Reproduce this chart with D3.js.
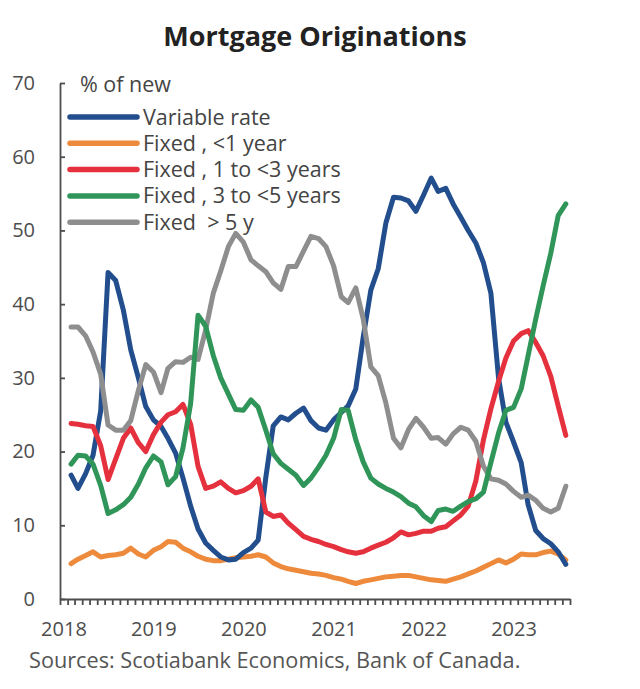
<!DOCTYPE html>
<html>
<head>
<meta charset="utf-8">
<script src="https://cdn.jsdelivr.net/npm/d3@7"></script>
<style>
	body { margin: 0; background: #fff; }
	svg { display: block; font-family: "Open Sans", sans-serif; }
	.axis path, .axis line { stroke: #4d4d4d; stroke-width: 1.8; }
	.axis text { fill: #4d4d4d; font-size: 20px; font-family: "Open Sans", sans-serif; }
</style>
</head>
<body>
<svg width="640" height="689"></svg>
<script>
// monthly shares of new mortgages, Feb 2018 to Aug 2023 (% of new)
var months = d3.timeMonth.range(new Date(2018, 1, 1), new Date(2023, 8, 1));

var variableRate = [16.8, 15.0, 17.0, 19.5, 25.5, 44.3, 43.2, 39.2, 33.8, 30.0,
	26.1, 24.3, 23.4, 21.8, 19.8, 16.4, 12.6, 9.5, 7.6, 6.6,
	5.7, 5.3, 5.4, 6.3, 6.9, 8.0, 16.5, 23.5, 24.7, 24.3,
	25.2, 25.9, 24.2, 23.2, 22.9, 24.3, 25.3, 26.2, 28.5, 35.5,
	41.9, 44.8, 51.0, 54.5, 54.4, 54.0, 52.6, 54.8, 57.1, 55.3,
	55.7, 53.6, 51.8, 50.0, 48.3, 45.6, 41.5, 30.0, 24.0, 21.3,
	18.5, 12.8, 9.3, 8.2, 7.5, 6.4, 4.7];

var fixedUnder1 = [4.8, 5.4, 5.9, 6.4, 5.7, 5.9, 6.0, 6.2, 6.9, 6.1,
	5.7, 6.6, 7.1, 7.8, 7.7, 6.9, 6.4, 5.8, 5.4, 5.2,
	5.2, 5.4, 5.6, 5.7, 5.8, 6.0, 5.7, 4.9, 4.4, 4.1,
	3.9, 3.7, 3.5, 3.4, 3.2, 2.9, 2.7, 2.4, 2.1, 2.4,
	2.6, 2.8, 3.0, 3.1, 3.2, 3.2, 3.0, 2.8, 2.6, 2.5,
	2.4, 2.7, 3.0, 3.4, 3.8, 4.3, 4.8, 5.3, 4.9, 5.4,
	6.1, 6.0, 6.0, 6.3, 6.5, 6.1, 5.3];

var fixed1to3 = [23.8, 23.7, 23.5, 23.4, 20.8, 16.2, 19.0, 21.8, 23.2, 21.2,
	20.0, 22.3, 24.0, 25.0, 25.4, 26.4, 23.7, 18.0, 15.0, 15.3,
	15.9, 15.0, 14.4, 14.7, 15.3, 16.3, 11.8, 11.2, 11.4, 10.3,
	9.4, 8.5, 8.1, 7.8, 7.4, 7.1, 6.7, 6.4, 6.2, 6.4,
	6.9, 7.3, 7.7, 8.3, 9.1, 8.7, 8.9, 9.2, 9.2, 9.6,
	9.8, 10.6, 11.4, 12.6, 16.0, 21.6, 25.8, 29.5, 32.7, 35.0,
	36.0, 36.4, 34.8, 33.0, 30.2, 26.2, 22.2];

var fixed3to5 = [18.3, 19.5, 19.4, 18.3, 15.4, 11.6, 12.1, 12.8, 13.8, 15.6,
	17.8, 19.4, 18.6, 15.5, 16.6, 20.5, 26.5, 38.5, 37.0, 33.0,
	30.0, 27.8, 25.7, 25.6, 27.0, 26.0, 22.9, 19.7, 18.4, 17.6,
	16.8, 15.4, 16.4, 17.9, 19.5, 21.8, 25.7, 25.6, 21.6, 18.6,
	16.4, 15.6, 15.0, 14.5, 13.9, 13.0, 12.5, 11.3, 10.5, 12.0,
	12.2, 11.9, 12.6, 13.2, 13.6, 14.5, 18.5, 22.5, 25.6, 26.0,
	28.5, 33.0, 38.0, 42.5, 46.9, 52.0, 53.6];

var fixedOver5 = [36.9, 36.9, 35.7, 33.5, 30.5, 23.6, 22.9, 22.9, 24.2, 28.3,
	31.8, 30.8, 28.0, 31.3, 32.2, 32.1, 32.8, 32.5, 36.5, 41.5,
	44.5, 47.8, 49.6, 48.4, 46.0, 45.2, 44.4, 42.9, 42.0, 45.1,
	45.1, 47.2, 49.2, 48.9, 47.8, 45.2, 41.0, 40.2, 42.2, 38.0,
	31.5, 30.3, 26.6, 21.8, 20.5, 23.0, 24.5, 23.3, 21.8, 21.9,
	21.0, 22.4, 23.3, 22.9, 21.4, 18.0, 16.3, 16.1, 15.6, 14.6,
	13.8, 14.1, 13.4, 12.3, 11.8, 12.3, 15.3];

var seriesNames = ["Variable rate", "Fixed , <1 year", "Fixed , 1 to <3 years", "Fixed , 3 to <5 years", "Fixed  > 5 y"];
var seriesColors = ["#234e8d", "#ee8a3c", "#e5303e", "#2f9558", "#8e8e8e"];
var seriesValues = [variableRate, fixedUnder1, fixed1to3, fixed3to5, fixedOver5];

var yearLabels = ["2018", "2019", "2020", "2021", "2022", "2023"];
var yTicks = [0, 10, 20, 30, 40, 50, 60, 70];

var svg = d3.select("svg");

// scales: one month is 7.5px, values are placed mid month
var x = d3.scaleTime()
	.domain([new Date(2018, 0, 1), new Date(2023, 8, 1)])
	.range([60, 570]);

var y = d3.scaleLinear()
	.domain([0, 70])
	.range([599, 83]);

// title
svg.append("text")
	.attr("x", 315)
	.attr("y", 46)
	.attr("text-anchor", "middle")
	.attr("font-size", 27)
	.attr("font-weight", "bold")
	.attr("fill", "#222")
	.text("Mortgage Originations");

// y axis with inward ticks
svg.append("g")
	.attr("class", "axis")
	.attr("transform", "translate(60,0)")
	.call(d3.axisLeft(y).tickValues(yTicks).tickSize(-5).tickSizeOuter(0).tickPadding(25));

// x axis: monthly ticks hanging below
svg.append("g")
	.attr("class", "axis")
	.attr("transform", "translate(0,599)")
	.call(d3.axisBottom(x).ticks(d3.timeMonth.every(1)).tickSize(6).tickSizeOuter(0).tickFormat(""));

// year labels
var yearAxis = svg.append("g")
	.attr("class", "axis")
	.attr("transform", "translate(0,599)")
	.call(d3.axisBottom(x)
		.tickValues(yearLabels.map(function(d) { return new Date(+d, 0, 15); }))
		.tickFormat(function(d) { return d3.timeFormat("%Y")(d); })
		.tickSize(0)
		.tickPadding(23));
yearAxis.select(".domain").remove();

// lines
var line = d3.line()
	.x(function(d) { return x(d3.timeDay.offset(d.month, 14)); })
	.y(function(d) { return y(d.value); });

var drawOrder = [1, 0, 2, 4, 3];

drawOrder.forEach(function(i) {
	var pts = months.map(function(m, j) { return {month: m, value: seriesValues[i][j]}; });
	svg.append("path")
		.datum(pts)
		.attr("fill", "none")
		.attr("stroke", seriesColors[i])
		.attr("stroke-width", 5)
		.attr("stroke-linejoin", "round")
		.attr("stroke-linecap", "round")
		.attr("d", line);
});

// legend
svg.append("text")
	.attr("x", 80)
	.attr("y", 92)
	.attr("font-size", 21.5)
	.attr("fill", "#444")
	.text("% of new");

var legend = svg.append("g")
	.selectAll("g")
	.data(seriesNames)
	.enter().append("g")
	.attr("transform", function(d, i) { return "translate(0," + (117 + i * 26.3) + ")"; });

legend.append("line")
	.attr("x1", 70)
	.attr("x2", 137)
	.attr("stroke", function(d, i) { return seriesColors[i]; })
	.attr("stroke-width", 5.5)
	.attr("stroke-linecap", "round");

legend.append("text")
	.attr("x", 143)
	.attr("y", 7.5)
	.attr("font-size", 21.5)
	.attr("fill", "#444")
	.style("white-space", "pre")
	.text(function(d) { return d; });

// source note
svg.append("text")
	.attr("x", 29)
	.attr("y", 668)
	.attr("font-size", 21.7)
	.attr("fill", "#555")
	.text("Sources: Scotiabank Economics, Bank of Canada.");
</script>
</body>
</html>
